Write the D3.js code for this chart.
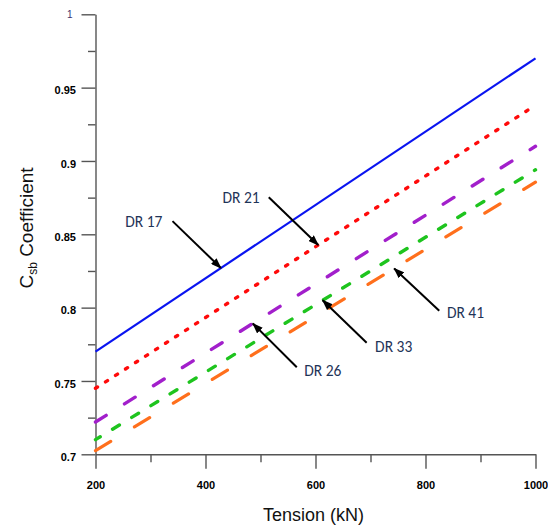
<!DOCTYPE html>
<html>
<head>
<meta charset="utf-8">
<script src="https://cdn.jsdelivr.net/npm/d3@7"></script>
<style>
  html, body { margin: 0; padding: 0; background: #fff; }
  svg { display: block; }
</style>
</head>
<body>
<svg id="chart" width="548" height="527"></svg>
<script>
// ---- data ----
const tension = [200, 1000];
const seriesNames = ["DR 17", "DR 21", "DR 26", "DR 33", "DR 41"];
const dr17 = [0.770, 0.970];
const dr21 = [0.745, 0.938];
const dr26 = [0.722, 0.910];
const dr33 = [0.710, 0.894];
const dr41 = [0.7025, 0.8855];
const xTicks = [200, 400, 600, 800, 1000];
const xMinorTicks = [300, 500, 700, 900];
const yTicks = [0.7, 0.75, 0.8, 0.85, 0.9, 0.95, 1];
const yTickLabels = ["0.7", "0.75", "0.8", "0.85", "0.9", "0.95", "1"];
const yMinorTicks = [0.725, 0.775, 0.825, 0.875, 0.925, 0.975];
// annotations: tip tension (on the line), tail [tension, value], label anchor [tension, value]
const annTipT   = [428, 605, 486, 613, 743];
const annTail   = [[340, 0.859], [515, 0.8752], [566, 0.7593], [693, 0.7761], [825, 0.7979]];
const annLabel  = [[254, 0.8552], [431, 0.8711], [579.5, 0.7534], [708.4, 0.770], [838.9, 0.7927]];

const seriesValues = [dr17, dr21, dr26, dr33, dr41];
const seriesStyle = [
  { color: "#0a14f0", width: 2.2, dash: null, cap: "round", offset: 0 },
  { color: "#ff0a0a", width: 3.4, dash: "2.4,9.5", cap: "round", offset: 0 },
  { color: "#a21fcb", width: 3.4, dash: "12.6,21.6", cap: "round", offset: 0 },
  { color: "#1ec41e", width: 3.4, dash: "8,14.5", cap: "round", offset: 2.5 },
  { color: "#ff6f1c", width: 3.2, dash: "17.8,27.8", cap: "round", offset: 0 }
];

const svg = d3.select("#chart");
const x = d3.scaleLinear().domain([200, 1000]).range([95.5, 535.5]);
const y = d3.scaleLinear().domain([0.7, 1]).range([454.3, 14.3]);

// defs: arrow head
svg.append("defs").append("marker")
  .attr("id", "arrow")
  .attr("markerUnits", "userSpaceOnUse")
  .attr("viewBox", "0 0 11 8")
  .attr("refX", 10).attr("refY", 4)
  .attr("markerWidth", 11).attr("markerHeight", 8)
  .attr("orient", "auto")
  .append("path").attr("d", "M0,0 L11,4 L0,8 Z").attr("fill", "#000");

const axisColor = "#555";

// y axis
const gy = svg.append("g").attr("transform", `translate(${x(200)},0)`);
gy.call(d3.axisLeft(y).tickValues(yTicks).tickSizeInner(14).tickSizeOuter(0).tickPadding(5.5)
  .tickFormat((d, i) => yTickLabels[i]));
gy.select(".domain").attr("stroke", axisColor).attr("stroke-width", 1.4);
gy.selectAll(".tick line").attr("stroke", axisColor).attr("stroke-width", 1.4);
gy.selectAll(".tick text")
  .attr("font-family", "Arial, 'Liberation Sans', sans-serif")
  .attr("font-size", 11).attr("font-weight", "bold").attr("fill", "#000")
  .attr("dy", "0.55em");
gy.selectAll(".tick text").filter(d => d === 1)
  .attr("font-weight", "normal").attr("font-size", 10).attr("fill", "#3d2f70")
  .attr("x", -23).attr("dy", "0.35em");
const gyMinor = svg.append("g").attr("transform", `translate(${x(200)},0)`);
gyMinor.call(d3.axisLeft(y).tickValues(yMinorTicks).tickSizeInner(7.5).tickSizeOuter(0).tickFormat(""));
gyMinor.select(".domain").remove();
gyMinor.selectAll(".tick line").attr("stroke", axisColor).attr("stroke-width", 1.4);

// x axis
const gx = svg.append("g").attr("transform", `translate(0,${y(0.7)})`);
gx.call(d3.axisBottom(x).tickValues(xTicks).tickSizeInner(14.5).tickSizeOuter(0).tickPadding(12)
  .tickFormat(d3.format("d")));
gx.select(".domain").attr("stroke", axisColor).attr("stroke-width", 1.4);
gx.selectAll(".tick line").attr("stroke", axisColor).attr("stroke-width", 1.4);
gx.selectAll(".tick text")
  .attr("font-family", "Arial, 'Liberation Sans', sans-serif")
  .attr("font-size", 11).attr("font-weight", "bold").attr("fill", "#000");
const gxMinor = svg.append("g").attr("transform", `translate(0,${y(0.7)})`);
gxMinor.call(d3.axisBottom(x).tickValues(xMinorTicks).tickSizeInner(8).tickSizeOuter(0).tickFormat(""));
gxMinor.select(".domain").remove();
gxMinor.selectAll(".tick line").attr("stroke", axisColor).attr("stroke-width", 1.4);

// axis titles
svg.append("text")
  .attr("x", 313.5).attr("y", 521)
  .attr("text-anchor", "middle")
  .attr("font-family", "Arial, 'Liberation Sans', sans-serif")
  .attr("font-size", 18).attr("fill", "#111")
  .text("Tension (kN)");

const yt = svg.append("text")
  .attr("transform", "translate(33,228) rotate(-90)")
  .attr("text-anchor", "middle")
  .attr("font-family", "Arial, 'Liberation Sans', sans-serif")
  .attr("font-size", 19).attr("fill", "#111");
yt.append("tspan").text("C");
yt.append("tspan").attr("font-size", 12).attr("dy", 4).text("sb");
yt.append("tspan").attr("dy", -4).text(" Coefficient");

// series lines
const line = d3.line().x((d, i) => x(tension[i])).y(d => y(d));
seriesValues.forEach((vals, k) => {
  const st = seriesStyle[k];
  const p = svg.append("path")
    .datum(vals)
    .attr("d", line)
    .attr("fill", "none")
    .attr("stroke", st.color)
    .attr("stroke-width", st.width)
    .attr("stroke-linecap", st.dash ? st.cap : "butt");
  if (st.dash) p.attr("stroke-dasharray", st.dash).attr("stroke-dashoffset", st.offset);
});

// annotations
function valueAt(vals, t) {
  const f = (t - tension[0]) / (tension[1] - tension[0]);
  return vals[0] + f * (vals[1] - vals[0]);
}
seriesNames.forEach((name, k) => {
  const tipT = annTipT[k];
  const tipV = valueAt(seriesValues[k], tipT);
  svg.append("line")
    .attr("x1", x(annTail[k][0])).attr("y1", y(annTail[k][1]))
    .attr("x2", x(tipT)).attr("y2", y(tipV))
    .attr("stroke", "#000").attr("stroke-width", 2)
    .attr("marker-end", "url(#arrow)");
  svg.append("text")
    .attr("x", x(annLabel[k][0])).attr("y", y(annLabel[k][1]))
    .attr("font-family", "Carlito, Calibri, Lato, sans-serif")
    .attr("font-size", 15.5).attr("fill", "#1f3458")
    .text(name);
});
</script>
</body>
</html>
